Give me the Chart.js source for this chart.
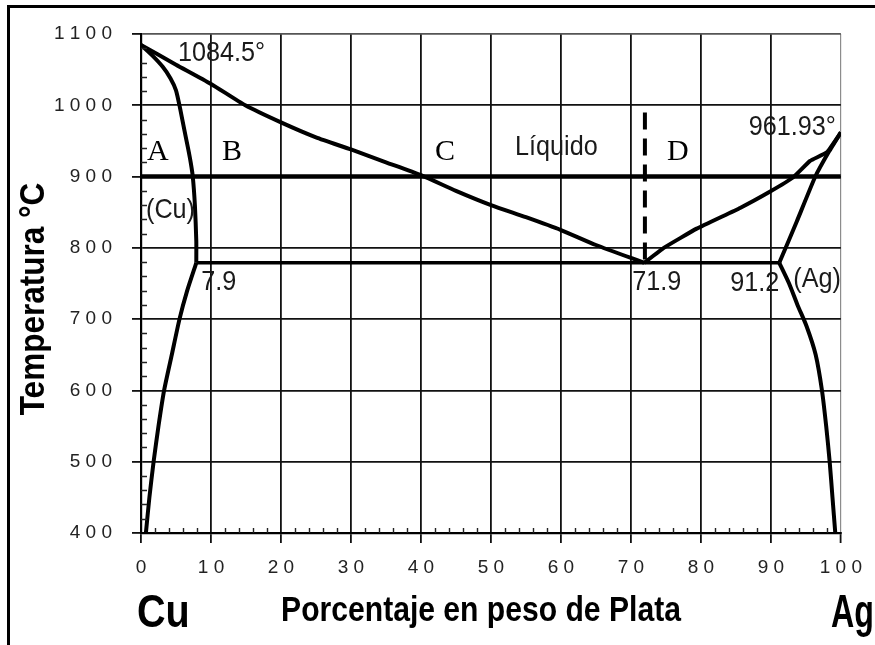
<!DOCTYPE html>
<html>
<head>
<meta charset="utf-8">
<title>Diagrama de fases Cu-Ag</title>
<script src="https://cdn.jsdelivr.net/npm/chart.js@4.4.1/dist/chart.umd.min.js"></script>
<style>
  html, body { margin: 0; padding: 0; background: #fff; }
  canvas { display: block; }
</style>
</head>
<body>
<canvas id="c" width="875" height="645"></canvas>
<script>
// ---- Cu-Ag phase diagram data (wt% Ag, temperature in °C) ----
const meltCu = 1084.5;          // melting point of Cu
const meltAg = 961.93;          // melting point of Ag
const eutecticT = 779;          // eutectic temperature
const eutecticCuX = 7.9;        // max solubility of Ag in (Cu)
const eutecticX = 71.9;         // eutectic composition
const eutecticAgX = 91.2;       // max solubility of Cu in (Ag)
const isothermT = 900;          // reference isotherm
const sectionX = 72;            // vertical section (dashed)
const sectionTopT = 990;

// liquidus, Cu-rich side
const liqCuX = [0, 5, 10, 14.9, 20, 25, 30, 35, 40, 45, 50, 55, 60, 65, eutecticX];
const liqCuT = [meltCu, 1057, 1030, 1000, 976, 955, 938, 920, 902, 880, 860, 843, 825, 804, eutecticT];

// solidus of (Cu)
const solCuX = [0, 1.6, 3.1, 4.2, 5.0, 5.6, 6.2, 6.7, 7.1, 7.4, 7.7, 7.9, eutecticCuX];
const solCuT = [meltCu, 1070, 1054, 1038, 1021, 995, 965, 941, 920, 900, 860, 810, eutecticT];

// solvus of (Cu)
const solvCuX = [eutecticCuX, 6.6, 5.5, 4.4, 3.3, 2.5, 1.8, 1.2, 0.7];
const solvCuT = [eutecticT, 740, 700, 650, 600, 550, 500, 450, 400];

// liquidus, Ag-rich side
const liqAgX = [eutecticX, 74.7, 79.4, 85.6, 89.9, 93.2, 95.6, 98.0, 100];
const liqAgT = [eutecticT, 800, 827, 856, 879, 899, 922, 934, meltAg];

// solidus of (Ag)
const solAgX = [100, 98.3, 96.3, 93.7, eutecticAgX];
const solAgT = [meltAg, 935, 899, 837, eutecticT];

// solvus of (Ag)
const solvAgX = [eutecticAgX, 92.6, 93.8, 95.1, 96.4, 97.3, 97.9, 98.4, 98.8, 99.2];
const solvAgT = [eutecticT, 750, 720, 690, 650, 600, 550, 500, 450, 400];

// axis ticks
const xTicks = [0, 10, 20, 30, 40, 50, 60, 70, 80, 90, 100];
const yTicks = [400, 500, 600, 700, 800, 900, 1000, 1100];

const toPts = (xs, ts) => xs.map((x, i) => ({ x, y: ts[i] }));

function curve(xs, ts, extra) {
  return Object.assign({
    data: toPts(xs, ts),
    showLine: true,
    borderColor: '#000',
    borderWidth: 4,
    pointRadius: 0,
    tension: 0,
    borderJoinStyle: 'round',
    fill: false
  }, extra || {});
}

// text drawn with a horizontal squeeze (narrow look)
function drawText(ctx, text, x, y, o) {
  ctx.save();
  ctx.translate(x, y);
  if (o.rotate) ctx.rotate(o.rotate);
  ctx.scale(o.sx || 1, 1);
  ctx.font = o.font;
  ctx.fillStyle = o.color || '#111';
  ctx.textAlign = o.align || 'left';
  ctx.textBaseline = 'alphabetic';
  ctx.fillText(text, 0, 0);
  ctx.restore();
}

const decorations = {
  id: 'decorations',
  afterDraw(chart) {
    const ctx = chart.ctx;
    const xs = chart.scales.x, ys = chart.scales.y;
    const px = v => xs.getPixelForValue(v);
    const py = v => ys.getPixelForValue(v);

    // outer frame (left and top)
    ctx.save();
    ctx.fillStyle = '#000';
    ctx.fillRect(7, 5, 3, 645);
    ctx.fillRect(7, 5, 868, 3);

    // minor ticks, pointing into the plot
    ctx.strokeStyle = '#222';
    ctx.lineWidth = 1.4;
    ctx.beginPath();
    for (let t = 420; t < 1100; t += 20) {
      if (t % 100 === 0) continue;
      const y = Math.round(py(t)) + 0.5;
      ctx.moveTo(px(0), y); ctx.lineTo(px(0) + 6, y);
    }
    for (let v = 2; v < 100; v += 2) {
      if (v % 10 === 0) continue;
      const x = Math.round(px(v)) + 0.5;
      ctx.moveTo(x, py(400)); ctx.lineTo(x, py(400) - 5);
    }
    ctx.stroke();
    ctx.restore();

    // annotations
    const thin = { font: '28px "Liberation Sans", Arial, sans-serif', sx: 0.9, color: '#1a1a1a' };
    const serif = { font: '30px "Liberation Serif", "Times New Roman", serif', color: '#000' };
    drawText(ctx, meltCu + '°', px(0) + 37, py(1100) + 27, thin);
    drawText(ctx, meltAg + '°', px(100) - 5, py(meltAg) + 3, Object.assign({}, thin, { align: 'right' }));
    drawText(ctx, String(eutecticCuX), px(eutecticCuX) + 5, py(eutecticT) + 27, thin);
    drawText(ctx, String(eutecticX), px(eutecticX) - 12, py(eutecticT) + 27, thin);
    drawText(ctx, String(eutecticAgX), px(eutecticAgX), py(eutecticT) + 28, Object.assign({}, thin, { align: 'right' }));
    drawText(ctx, '(Ag)', px(eutecticAgX) + 14, py(eutecticT) + 24, thin);
    drawText(ctx, '(Cu)', px(0) + 5, py(isothermT) + 41, thin);
    drawText(ctx, 'Líquido', 515, 155, thin);
    drawText(ctx, 'A', 147, 160, serif);
    drawText(ctx, 'B', 222, 160, serif);
    drawText(ctx, 'C', 435, 160, serif);
    drawText(ctx, 'D', 667, 160, serif);

    // axis titles and element symbols
    const bold = '700 35px "Liberation Sans", Arial, sans-serif';
    drawText(ctx, 'Temperatura °C', 44, 299, { font: bold, sx: 0.9, align: 'center', rotate: -Math.PI / 2, color: '#000' });
    drawText(ctx, 'Porcentaje en peso de Plata', 481, 621, { font: bold, sx: 0.86, align: 'center', color: '#000' });
    const big = '700 46px "Liberation Sans", Arial, sans-serif';
    drawText(ctx, 'Cu', 137, 627, { font: big, sx: 0.86, color: '#000' });
    drawText(ctx, 'Ag', 874, 627, { font: big, sx: 0.7, align: 'right', color: '#000' });
  }
};

const spaced = v => String(v).split('').join(' ');
const tickFont = { family: '"Liberation Sans", Arial, sans-serif', size: 19 };

new Chart(document.getElementById('c'), {
  type: 'scatter',
  data: {
    datasets: [
      curve(liqCuX, liqCuT, { tension: 0.2 }),
      curve(solCuX, solCuT, { tension: 0.2 }),
      curve(solvCuX, solvCuT, { tension: 0.2 }),
      curve(liqAgX, liqAgT, { tension: 0.1 }),
      curve(solAgX, solAgT, { tension: 0.1 }),
      curve(solvAgX, solvAgT, { tension: 0.25 }),
      curve([eutecticCuX, eutecticAgX], [eutecticT, eutecticT], { borderWidth: 3.5 }),
      curve([0, 100], [isothermT, isothermT], { borderWidth: 4.5 }),
      curve([sectionX, sectionX], [sectionTopT, eutecticT], { borderWidth: 4, borderDash: [17, 9] })
    ]
  },
  options: {
    responsive: false,
    devicePixelRatio: 1,
    animation: false,
    events: [],
    layout: { padding: { left: 0, top: 34, right: 30, bottom: 0 } },
    plugins: { legend: { display: false }, tooltip: { enabled: false } },
    scales: {
      x: {
        type: 'linear', min: 0, max: 100,
        afterBuildTicks: s => { s.ticks = xTicks.map(v => ({ value: v })); },
        afterFit: s => { s.height = 645 - 533; },
        grid: {
          color: c => (c.tick && c.tick.value === 100) ? '#8c8c8c' : '#111',
          lineWidth: c => (c.tick && c.tick.value === 100) ? 1.2 : 1.8,
          tickLength: 10, tickColor: '#111', tickWidth: 1.8
        },
        border: { display: true, color: '#000', width: 2.2 },
        ticks: { callback: v => spaced(v), font: tickFont, color: '#222', padding: 13, maxRotation: 0, autoSkip: false }
      },
      y: {
        type: 'linear', min: 400, max: 1100,
        afterBuildTicks: s => { s.ticks = yTicks.map(v => ({ value: v })); },
        afterFit: s => { s.width = 141; },
        grid: {
          color: c => (c.tick && c.tick.value === 1100) ? '#555' : '#111',
          lineWidth: 1.8,
          tickLength: 9, tickColor: '#111', tickWidth: 1.8
        },
        border: { display: true, color: '#000', width: 2.2 },
        ticks: { callback: v => spaced(v), font: tickFont, color: '#222', padding: 20, autoSkip: false }
      }
    }
  },
  plugins: [decorations]
});
</script>
</body>
</html>
